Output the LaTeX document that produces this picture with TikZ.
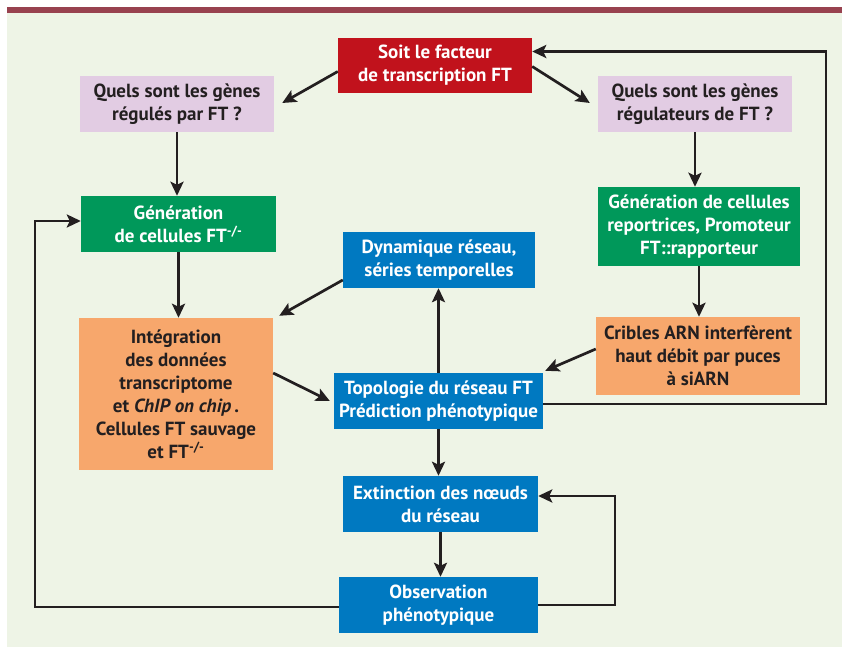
\documentclass[tikz,border=0pt]{standalone}
\usepackage{fontspec}
\setmainfont{PT Sans}
\usepackage{xcolor}
\usetikzlibrary{arrows.meta,positioning}
\definecolor{panel}{HTML}{EEF4E6}
\definecolor{topbar}{HTML}{98424F}
\definecolor{ink}{HTML}{231F20}
\definecolor{ftred}{HTML}{C1121C}
\definecolor{lilac}{HTML}{E2CCE3}
\definecolor{gengreen}{HTML}{00985A}
\definecolor{netblue}{HTML}{0079C1}
\definecolor{peach}{HTML}{F7A76C}

\begin{document}
\begin{tikzpicture}[
    x=1pt, y=1pt,
    every node/.style={rectangle,align=center,inner sep=1pt,
      font=\fontsize{19}{23}\selectfont\bfseries},
    redbox/.style={fill=ftred,text=white},
    lilacbox/.style={fill=lilac,text=ink},
    greenbox/.style={fill=gengreen,text=white},
    bluebox/.style={fill=netblue,text=white},
    peachbox/.style={fill=peach,text=ink},
    arr/.style={draw=ink,line width=2.7pt,-{Stealth[length=14pt,width=13pt,inset=3pt]}}
]
\useasboundingbox (0,0) rectangle (842,647);
\fill[panel] (7,0) rectangle (842,634);
\fill[topbar] (7,634) rectangle (842,640);

\node[redbox,minimum width=194,minimum height=55] (ft) at (435,581.5)
  {Soit le facteur\\de transcription FT};
\node[lilacbox,minimum width=194,minimum height=56] (qreg) at (177,543)
  {Quels sont les gènes\\régulés par FT ?};
\node[lilacbox,minimum width=194,minimum height=56] (qrgt) at (695,543)
  {Quels sont les gènes\\régulateurs de FT ?};
\node[greenbox,minimum width=195,minimum height=56] (genko) at (178.5,423)
  {Génération\\de cellules FT\textsuperscript{-/-}};
\node[greenbox,minimum width=202,minimum height=79] (genrep) at (699,420.5)
  {Génération de cellules\\reportrices, Promoteur\\FT::rapporteur};
\node[bluebox,minimum width=192,minimum height=56] (dyn) at (439,387)
  {Dynamique réseau,\\séries temporelles};
\node[peachbox,minimum width=194,minimum height=152] (integ) at (176,253)
  {Intégration\\des données\\transcriptome\\et \textit{ChIP on chip}\,.\\Cellules FT sauvage\\et FT\textsuperscript{-/-}};
\node[peachbox,minimum width=204,minimum height=78] (crib) at (698,291)
  {Cribles ARN interfèrent\\haut débit par puces\\à siARN};
\node[bluebox,minimum width=209,minimum height=56] (topo) at (438.5,246)
  {Topologie du réseau FT\\Prédiction phénotypique};
\node[bluebox,minimum width=195,minimum height=56] (ext) at (440.5,143)
  {Extinction des nœuds\\du réseau};
\node[bluebox,minimum width=199,minimum height=56] (obs) at (438.5,42)
  {Observation\\phénotypique};

\coordinate (loopr) at (826,0);
\coordinate (loopl) at (35,0);
\coordinate (loopm) at (615,0);

\draw[arr] ([yshift=-6pt]ft.west) -- ([xshift=8pt,yshift=1pt]qreg.east);
\draw[arr] ([yshift=-1pt]ft.east) -- ([xshift=-8pt,yshift=1pt]qrgt.west);
\draw[arr] (qreg.south) -- (qreg.south|-genko.north);
\draw[arr] (qrgt.south) -- (qrgt.south|-genrep.north);
\draw[arr] (genko.south) -- (genko.south|-integ.north);
\draw[arr] (genrep.south) -- (genrep.south|-crib.north);
\draw[arr] ([yshift=-20pt]dyn.west) -- ([xshift=6pt,yshift=2pt]integ.north east);
\draw[arr] ([yshift=7pt]crib.west) -- ([xshift=2pt,yshift=2pt]topo.north east);
\draw[arr] ([yshift=21pt]integ.east) -- ([xshift=-4pt]topo.west);
\draw[arr] (topo.north) -- (topo.north|-dyn.south);
\draw[arr] (topo.south) -- (topo.south|-ext.north);
\draw[arr] (ext.south) -- (ext.south|-obs.north);
\draw[arr] ([yshift=-3pt]topo.east) -- ([yshift=-3pt]topo.east-|loopr) |- ([yshift=14pt]ft.east);
\draw[arr] ([yshift=-2pt]obs.west) -- ([yshift=-2pt]obs.west-|loopl) |- ([yshift=3pt]genko.west);
\draw[arr] (obs.east) -- (obs.east-|loopm) |- ([yshift=8pt]ext.east);
\end{tikzpicture}
\end{document}
